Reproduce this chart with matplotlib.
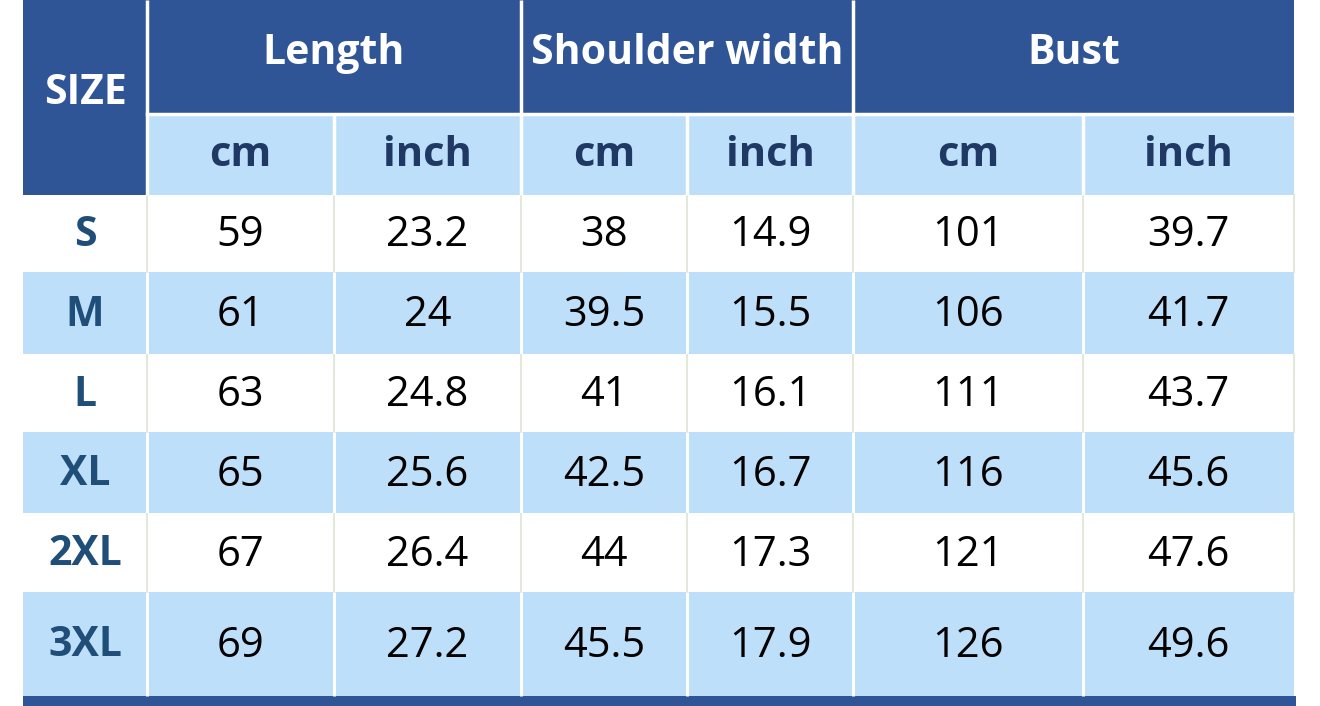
import matplotlib.pyplot as plt
from matplotlib.patches import Rectangle

# size chart data
sizes = ['S', 'M', 'L', 'XL', '2XL', '3XL']
groups = ['Length', 'Shoulder width', 'Bust']
units = ['cm', 'inch']
length_cm = ['59', '61', '63', '65', '67', '69']
length_inch = ['23.2', '24', '24.8', '25.6', '26.4', '27.2']
shoulder_cm = ['38', '39.5', '41', '42.5', '44', '45.5']
shoulder_inch = ['14.9', '15.5', '16.1', '16.7', '17.3', '17.9']
bust_cm = ['101', '106', '111', '116', '121', '126']
bust_inch = ['39.7', '41.7', '43.7', '45.6', '47.6', '49.6']

columns = [length_cm, length_inch, shoulder_cm, shoulder_inch, bust_cm, bust_inch]

dark = '#2f5597'
light = '#bddff9'
size_color = '#1f4e79'
unit_color = '#1f3864'
grid_light = '#e2e8da'

plt.rcParams['font.family'] = ['Open Sans', 'DejaVu Sans']

# pixel layout of the table
col_x = [23, 147, 334, 521, 687, 853, 1083, 1294]
row_y = [0, 114, 195, 272, 354, 432, 513, 592, 696]

fig = plt.figure(figsize=(13.2, 7.06), dpi=100)
ax = fig.add_axes([0, 0, 1, 1])
ax.set_xlim(0, 1320)
ax.set_ylim(706, 0)
ax.axis('off')

# header backgrounds
ax.add_patch(Rectangle((col_x[0], row_y[0]), col_x[-1] - col_x[0], row_y[2] - row_y[0], color=dark, lw=0))
ax.add_patch(Rectangle((col_x[1], row_y[1]), col_x[-1] - col_x[1], row_y[2] - row_y[1], color=light, lw=0))

# data rows, alternating white / light blue
for i, s in enumerate(sizes):
    y0, y1 = row_y[i + 2], row_y[i + 3]
    fc = light if i % 2 == 1 else 'white'
    ax.add_patch(Rectangle((col_x[0], y0), col_x[-1] - col_x[0], y1 - y0, color=fc, lw=0))
    lc = 'white' if i % 2 == 1 else grid_light
    lw = 2.2 if i % 2 == 1 else 1.5
    for x in col_x[1:-1]:
        ax.plot([x, x], [y0, y1], color=lc, lw=lw, solid_capstyle='butt')
    if i % 2 == 0:
        ax.plot([col_x[-1], col_x[-1]], [y0, y1], color=grid_light, lw=1.5)

# header grid lines
ax.plot([col_x[1], col_x[-1]], [row_y[1], row_y[1]], color='white', lw=2.5)
for x in col_x[1:-1]:
    y_top = row_y[0] if x in (col_x[1], col_x[3], col_x[5]) else row_y[1]
    ax.plot([x, x], [y_top, row_y[2]], color='white', lw=2.5, solid_capstyle='butt')

# bottom band
ax.add_patch(Rectangle((col_x[0], row_y[-1]), col_x[-1] - col_x[0] + 2, 12, color=dark, lw=0))

# header texts
ax.text((col_x[0] + col_x[1]) / 2, 93, 'SIZE', color='white',
        fontsize=29.5, fontweight='bold', ha='center', va='center')
for g, name in enumerate(groups):
    xc = (col_x[1 + 2 * g] + col_x[3 + 2 * g]) / 2
    ax.text(xc, 54, name, color='white', fontsize=29.5, fontweight='bold',
            ha='center', va='center')
    for u, unit in enumerate(units):
        xu = (col_x[1 + 2 * g + u] + col_x[2 + 2 * g + u]) / 2
        ax.text(xu, 156, unit, color=unit_color, fontsize=30,
                fontweight='bold', ha='center', va='center')

# body texts
for i, s in enumerate(sizes):
    yc = (row_y[i + 2] + row_y[i + 3]) / 2 + 2
    ax.text((col_x[0] + col_x[1]) / 2, yc, s, color=size_color, fontsize=29.5,
            fontweight='bold', ha='center', va='center')
    for j, col in enumerate(columns):
        xc = (col_x[j + 1] + col_x[j + 2]) / 2
        ax.text(xc, yc, col[i], color='black', fontsize=30, ha='center', va='center')

fig.savefig('out.png', dpi=100, facecolor='white')
